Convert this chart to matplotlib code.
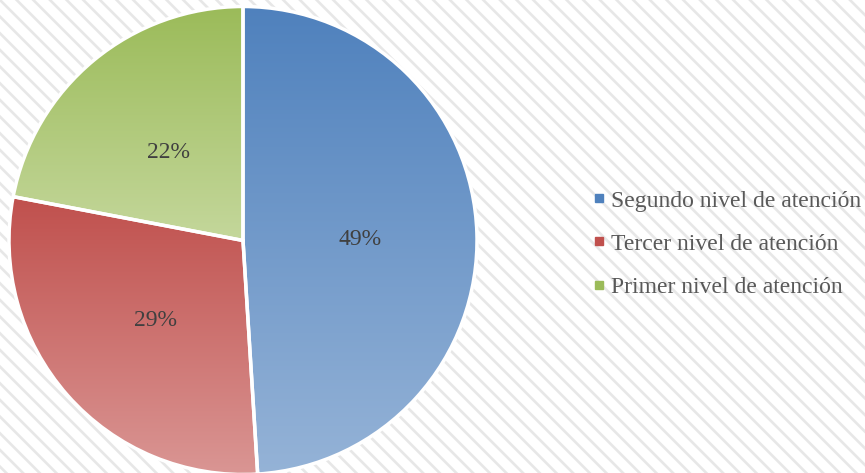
import numpy as np
import matplotlib
matplotlib.use("Agg")
import matplotlib.pyplot as plt
from matplotlib.colors import LinearSegmentedColormap
from matplotlib.lines import Line2D
from matplotlib.patches import Rectangle

labels = ["Segundo nivel de atención", "Tercer nivel de atención", "Primer nivel de atención"]
values = [49, 29, 22]
top_colors = ["#4F81BD", "#C0504D", "#9BBB59"]
bottom_colors = ["#95B3D7", "#DA9694", "#C4D79B"]

plt.rcParams["hatch.linewidth"] = 1.9
plt.rcParams["hatch.color"] = "#E7E7E7"

fig = plt.figure(figsize=(8.65, 4.73), dpi=100)
W, H = 865, 473

# striped background
bg = fig.add_axes([0, 0, 1, 1])
bg.set_axis_off()
bg.add_patch(Rectangle((0, 0), 1, 1, facecolor="white", edgecolor="#E7E7E7",
                       hatch="\\\\", linewidth=0, transform=bg.transAxes))

ax = fig.add_axes([9 / W, -1.5 / H, 468 / W, 468 / H])
ax.set_axis_off()
wedges, texts, autotexts = ax.pie(values, startangle=90, counterclock=False,
                                  autopct="%d%%", pctdistance=0.5, radius=1,
                                  wedgeprops=dict(edgecolor="white", linewidth=2.5),
                                  textprops=dict(family="Liberation Serif", fontsize=17,
                                                 color="#404040"))

# vertical gradient per slice
for w, c1, c2 in zip(wedges, top_colors, bottom_colors):
    verts = w.get_path().vertices
    x0, y0 = verts.min(axis=0)
    x1, y1 = verts.max(axis=0)
    cmap = LinearSegmentedColormap.from_list("g", [c2, c1])
    grad = np.linspace(0, 1, 256).reshape(-1, 1)
    im = ax.imshow(grad, cmap=cmap, extent=[x0, x1, y0, y1], origin="lower",
                   aspect="auto", zorder=w.get_zorder() + 0.1)
    im.set_clip_path(w)
    w.set_facecolor("none")
    w.set_zorder(w.get_zorder() + 0.2)
for t in autotexts:
    t.set_zorder(5)
    t.set_va("center_baseline")
ax.set_xlim(-1.0, 1.0)
ax.set_ylim(-1.0, 1.0)
ax.set_aspect("equal")

handles = [Line2D([], [], marker="s", linestyle="none", markersize=6,
                  markerfacecolor=c, markeredgecolor=c) for c in top_colors]
fig.legend(handles, labels, loc="center left", bbox_to_anchor=(584 / W, 1 - 244 / H),
           frameon=False, prop=dict(family="Liberation Serif", size=17),
           labelcolor="#595959", handlelength=0.5, handletextpad=0.25,
           labelspacing=0.92, borderaxespad=0)

fig.savefig("out.png", dpi=100)
